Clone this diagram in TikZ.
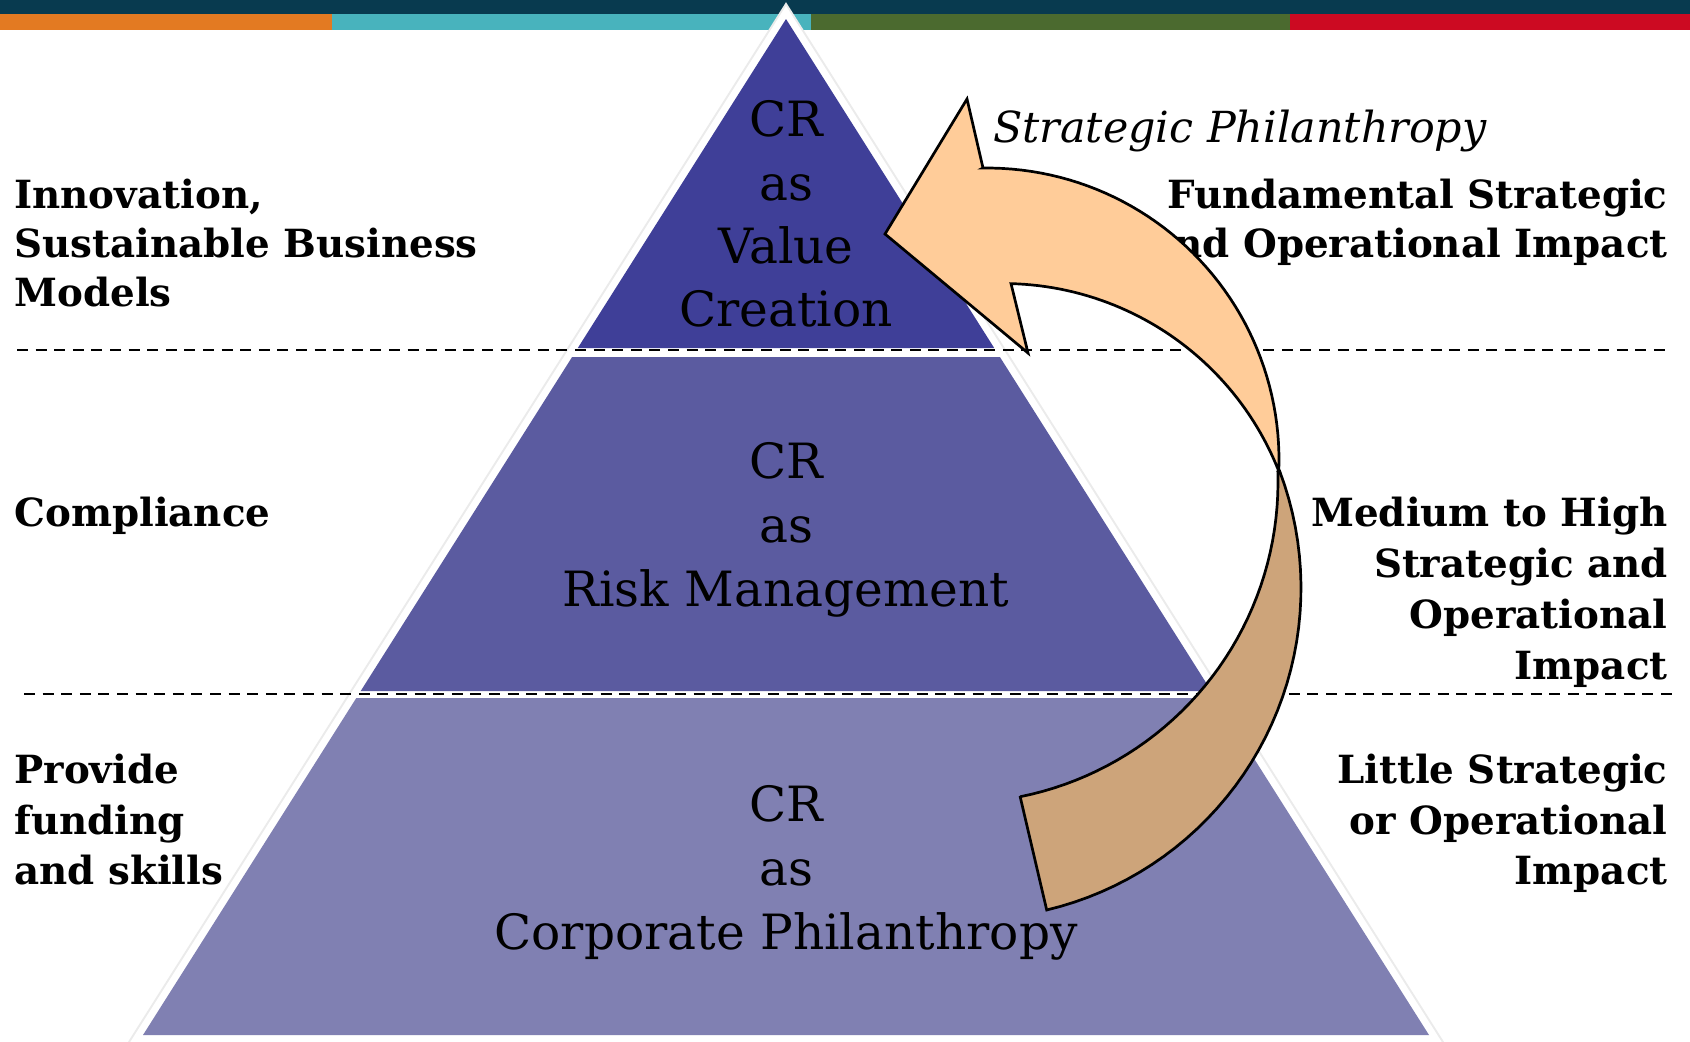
\documentclass[tikz,border=0pt]{standalone}
\usepackage{fontspec}
\setmainfont{DejaVu Serif}
\definecolor{navy}{HTML}{083A4F}
\definecolor{orng}{HTML}{E37A22}
\definecolor{teal}{HTML}{48B3BD}
\definecolor{olive}{HTML}{4B6A2F}
\definecolor{crim}{HTML}{CC0A22}
\definecolor{layA}{HTML}{3F3F98}
\definecolor{layB}{HTML}{5B5BA0}
\definecolor{layC}{HTML}{8080B2}
\definecolor{arrF}{HTML}{FFCC99}
\definecolor{arrB}{HTML}{CDA47A}
\begin{document}
\begin{tikzpicture}[x=0.5pt,y=-0.5pt,
  lbl/.style={font=\fontsize{19.4}{23}\selectfont\bfseries, inner sep=0pt},
  lblL/.style={lbl, anchor=base west},
  lblR/.style={lbl, anchor=base east},
  ptxt/.style={font=\fontsize{24.3}{29}\selectfont, inner sep=0pt, anchor=base},
  dline/.style={draw=black, dash pattern=on 5.5pt off 3.8pt, line width=1.4pt},
  arrow face/.style={draw=black, line width=1.35pt, line join=miter}]
\useasboundingbox (0,0) rectangle (1690,1041);
\fill[white] (0,0) rectangle (1690,1041);
% top bars
\fill[navy] (0,0) rectangle (1690,14);
\fill[orng] (0,14) rectangle (332,30);
\fill[teal] (332,14) rectangle (811,30);
\fill[olive] (811,14) rectangle (1290,30);
\fill[crim] (1290,14) rectangle (1690,30);
% pyramid outline
\draw[black!8, line width=9pt, line join=miter] (786,19) -- (1429,1035) -- (143,1035) -- cycle;
\draw[white, fill=white, line width=7pt, line join=miter] (786,19) -- (1429,1035) -- (143,1035) -- cycle;
% layers
\fill[layA] (786,19) -- (994.2,348) -- (577.8,348) -- cycle;
\fill[layB] (572.1,357) -- (999.9,357) -- (1211.3,691) -- (360.7,691) -- cycle;
\fill[layC] (356.3,698) -- (1215.7,698) -- (1429,1035) -- (143,1035) -- cycle;
% dashed separators
\draw[dline] (17,350) -- (1668,350);
\draw[dline] (24,694) -- (1673,694);
% pyramid texts
\foreach \t/\y [count=\i] in {CR/136, as/200, Value/263, Creation/326,
    CR/478, as/542, Risk Management/606,
    CR/821, as/885, Corporate Philanthropy/949}{
  \node[ptxt] (p\i) at (786,\y) {\t};
}
% left labels
\node[lblL] (l1) at (14,208) {Innovation,};
\node[lblL] (l2) at (14,257) {Sustainable Business};
\node[lblL] (l3) at (14,306) {Models};
\node[lblL] (l4) at (14,526) {Compliance};
\node[lblL] (l5) at (14,783) {Provide};
\node[lblL] (l6) at (14,834) {funding};
\node[lblL] (l7) at (14,884) {and skills};
% right labels
\node[lblR] (r1) at (1668,208) {Fundamental Strategic};
\node[lblR] (r2) at (1668,257) {and Operational Impact};
\node[lblR] (r3) at (1668,526) {Medium to High};
\node[lblR] (r4) at (1668,577) {Strategic and};
\node[lblR] (r5) at (1668,628) {Operational};
\node[lblR] (r6) at (1668,679) {Impact};
\node[lblR] (r7) at (1668,783) {Little Strategic};
\node[lblR] (r8) at (1668,834) {or Operational};
\node[lblR] (r9) at (1668,884) {Impact};
\node[font=\fontsize{21.4}{25}\selectfont\itshape, inner sep=0pt, anchor=base west] (sp) at (993,142) {Strategic Philanthropy};
% curved arrow: back face
\fill[arrB, arrow face] (1279.5,471.8)
  -- plot[domain=-20.6:76.6, samples=40] ({970+331*cos(\x)},{588+331*sin(\x)})
  -- (1020,796)
  -- plot[domain=78.65:-1.8, samples=40] ({957+321*cos(\x)},{482+321*sin(\x)})
  -- cycle;
% curved arrow: front face with head
\fill[arrF, arrow face] (885,234) -- (967,99) -- (983,168)
  -- plot[domain=-90.8:2.4, samples=50] ({987+292*cos(\x)},{460+292*sin(\x)})
  -- plot[domain=-21.4:-88.45, samples=50] ({1003+296.5*cos(\x)},{580+296.5*sin(\x)})
  -- (1028,353) -- cycle;
\end{tikzpicture}
\end{document}
